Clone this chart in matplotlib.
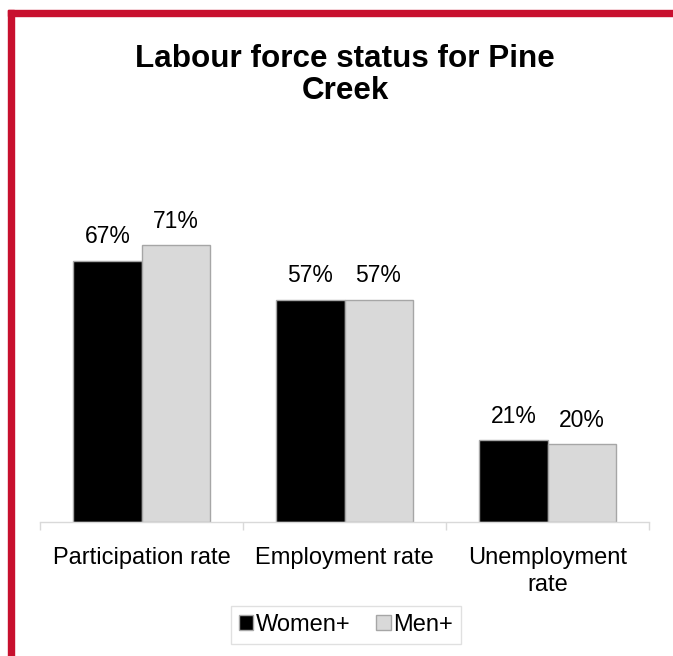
import numpy as np
import matplotlib
matplotlib.use("Agg")
import matplotlib.pyplot as plt
from matplotlib.patches import Rectangle, Patch

plt.rcParams['font.family'] = ['Liberation Sans', 'DejaVu Sans']

# dati
categories = ["Participation rate", "Employment rate", "Unemployment\nrate"]
women = [67, 57, 21]
men = [71, 57, 20]
series_names = ["Women+", "Men+"]

col_women = "#000000"
col_men = "#D9D9D9"
edge = "#A6A6A6"
red = "#C8102E"

fig = plt.figure(figsize=(6.73, 6.56), dpi=100)
W, H = 673, 656

# bordo rosso (sinistra e sopra)
fig.patches.append(Rectangle((8 / W, 0), 6 / W, 1 - 10 / H, transform=fig.transFigure,
                             color=red, zorder=0))
fig.patches.append(Rectangle((8 / W, 1 - 16 / H), 1, 6 / H, transform=fig.transFigure,
                             color=red, zorder=0))

ax = fig.add_axes([40 / W, 1 - 522 / H, 609 / W, 351 / H])
x = np.arange(len(categories))
bw = 0.335
b1 = ax.bar(x - bw / 2, women, bw, color=col_women, edgecolor=edge, linewidth=1)
b2 = ax.bar(x + bw / 2, men, bw, color=col_men, edgecolor=edge, linewidth=1)

for bars, vals in ((b1, women), (b2, men)):
    for b, v in zip(bars, vals):
        ax.annotate(f"{v}%", (b.get_x() + b.get_width() / 2, b.get_height()),
                    xytext=(0, 12.5), textcoords="offset points",
                    ha="center", va="baseline", fontsize=16.5)

ax.set_xlim(-0.5, len(categories) - 0.5)
ax.set_ylim(0, 90)
for s in ("left", "right", "top"):
    ax.spines[s].set_visible(False)
ax.spines["bottom"].set_color("#D9D9D9")
ax.spines["bottom"].set_linewidth(1)
ax.set_yticks([])
ax.set_xticks(x)
ax.set_xticklabels(categories, fontsize=17, linespacing=1.3)
ax.tick_params(axis="x", which="major", length=0, pad=18)
ax.set_xticks(np.arange(-0.5, len(categories)), minor=True)
ax.tick_params(axis="x", which="minor", length=6, color="#D9D9D9", width=1)

fig.text(345 / W, 1 - 75 / H, "Labour force status for Pine\nCreek", ha="center",
         va="center", fontsize=22.6, fontweight="bold", linespacing=1.12)

handles = [Patch(facecolor=col_women, edgecolor=edge, label=series_names[0]),
           Patch(facecolor=col_men, edgecolor=edge, label=series_names[1])]
leg = fig.legend(handles=handles, loc="center", bbox_to_anchor=(346 / W, 1 - 625 / H),
                 ncol=2, fontsize=17, frameon=True, fancybox=False,
                 handlelength=0.6, handleheight=0.6, handletextpad=0.1,
                 columnspacing=1.1, borderpad=0.35, borderaxespad=0)
leg.get_frame().set_edgecolor("#D9D9D9")
leg.get_frame().set_linewidth(1)
# riquadro della legenda un po' piu' largo come nell'originale
leg._legend_box.sep = 8

fig.savefig("out.png", dpi=100)
